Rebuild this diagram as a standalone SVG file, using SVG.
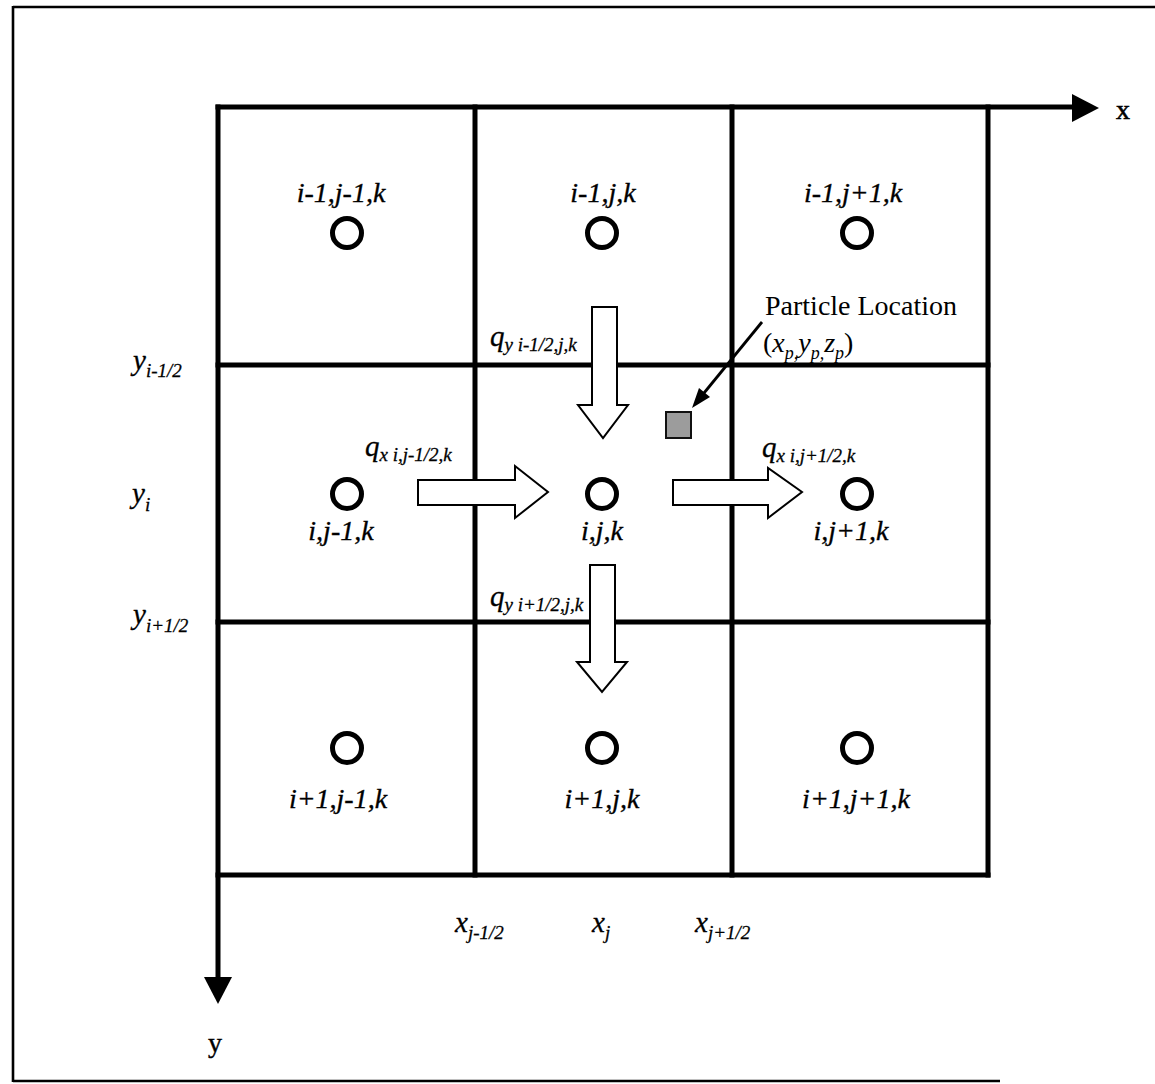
<svg xmlns="http://www.w3.org/2000/svg" width="1155" height="1084" viewBox="0 0 1155 1084">
<style>
.frame{stroke:#000;stroke-width:2.6;fill:none}
.grid{stroke:#000;stroke-width:5;fill:none;stroke-linecap:square}
.node{fill:none;stroke:#000;stroke-width:5}
.lbl{font-family:"Liberation Serif",serif;font-style:italic;font-size:28px;text-anchor:middle;fill:#000;stroke:#000;stroke-width:0.35}
.it{font-family:"Liberation Serif",serif;font-style:italic;font-size:29px;fill:#000;stroke:#000;stroke-width:0.3}
.sub{font-size:19px}
.rm{font-family:"Liberation Serif",serif;font-size:28px;fill:#000}
.flux{fill:#fff;stroke:#000;stroke-width:2}
</style>
<rect width="1155" height="1084" fill="#fff"/>
<g id="frame">
<line class="frame" x1="13" y1="7" x2="1155" y2="7"/>
<line class="frame" x1="13" y1="6" x2="13" y2="1082"/>
<line class="frame" x1="13" y1="1081" x2="1000" y2="1081"/>
</g>
<g id="grid">
<line class="grid" x1="218" y1="107" x2="1076" y2="107"/>
<line class="grid" x1="218" y1="365" x2="988" y2="365"/>
<line class="grid" x1="218" y1="622" x2="988" y2="622"/>
<line class="grid" x1="218" y1="875" x2="988" y2="875"/>
<line class="grid" x1="218" y1="107" x2="218" y2="980"/>
<line class="grid" x1="475" y1="107" x2="475" y2="875"/>
<line class="grid" x1="732" y1="107" x2="732" y2="875"/>
<line class="grid" x1="988" y1="107" x2="988" y2="875"/>
<polygon points="1072,94 1099,108 1072,122" fill="#000"/>
<polygon points="204,977 232,977 218,1004" fill="#000"/>
</g>
<g id="axis-labels">
<text class="rm" x="1116" y="119" font-size="31" stroke="#000" stroke-width="0.6">x</text>
<text class="rm" x="208" y="1052" font-size="31" stroke="#000" stroke-width="0.4">y</text>
<text class="it" x="133" y="370">y<tspan class="sub" dy="7">i-1/2</tspan></text>
<text class="it" x="132" y="503">y<tspan class="sub" dy="8">i</tspan></text>
<text class="it" x="133" y="624">y<tspan class="sub" dy="8">i+1/2</tspan></text>
<text class="it" x="455" y="932">x<tspan class="sub" dy="7">j-1/2</tspan></text>
<text class="it" x="592" y="932">x<tspan class="sub" dy="7">j</tspan></text>
<text class="it" x="695" y="932">x<tspan class="sub" dy="7">j+1/2</tspan></text>
</g>
<g id="cell-i-1-j-1"><circle class="node" cx="347" cy="233" r="14.5"/><text class="lbl" x="341" y="202">i-1,j-1,k</text></g>
<g id="cell-i-1-j"><circle class="node" cx="602" cy="233" r="14.5"/><text class="lbl" x="603" y="202">i-1,j,k</text></g>
<g id="cell-i-1-j+1"><circle class="node" cx="857" cy="233" r="14.5"/><text class="lbl" x="853" y="202">i-1,j+1,k</text></g>
<g id="cell-i-j-1"><circle class="node" cx="347" cy="494" r="14.5"/><text class="lbl" x="341" y="540">i,j-1,k</text></g>
<g id="cell-i-j"><circle class="node" cx="602" cy="494" r="14.5"/><text class="lbl" x="602" y="540">i,j,k</text></g>
<g id="cell-i-j+1"><circle class="node" cx="857" cy="494" r="14.5"/><text class="lbl" x="851" y="540">i,j+1,k</text></g>
<g id="cell-i+1-j-1"><circle class="node" cx="347" cy="748" r="14.5"/><text class="lbl" x="338" y="808">i+1,j-1,k</text></g>
<g id="cell-i+1-j"><circle class="node" cx="602" cy="748" r="14.5"/><text class="lbl" x="602" y="808">i+1,j,k</text></g>
<g id="cell-i+1-j+1"><circle class="node" cx="857" cy="748" r="14.5"/><text class="lbl" x="856" y="808">i+1,j+1,k</text></g>
<g id="connectors">
<polygon class="flux" points="592,307 617,307 617,405 628,405 603,438 578,405 592,405"/>
<polygon class="flux" points="590,565 615,565 615,662 627,662 602,692 577,662 590,662"/>
<polygon class="flux" points="418,480 515,480 515,466 548,492 515,518 515,505 418,505"/>
<polygon class="flux" points="673,480 768,480 768,468 802,492 768,518 768,505 673,505"/>
<line x1="762" y1="322" x2="704" y2="393" stroke="#000" stroke-width="2.8"/>
<polygon points="692,408 710,397 699,388" fill="#000"/>
</g>
<g id="flux-labels">
<text class="it" x="490" y="346">q<tspan class="sub" dy="5">y i-1/2,j,k</tspan></text>
<text class="it" x="365" y="456">q<tspan class="sub" dy="5">x i,j-1/2,k</tspan></text>
<text class="it" x="762" y="457">q<tspan class="sub" dy="5">x i,j+1/2,k</tspan></text>
<text class="it" x="490" y="606">q<tspan class="sub" dy="5">y i+1/2,j,k</tspan></text>
</g>
<g id="particle">
<rect x="666" y="412" width="25" height="26" fill="#9c9c9c" stroke="#111" stroke-width="2"/>
<text class="rm" x="765" y="315">Particle Location</text>
<text class="rm" x="763" y="352">(<tspan font-style="italic">x</tspan><tspan font-style="italic" font-size="18" dy="7">p,</tspan><tspan font-style="italic" dy="-7">y</tspan><tspan font-style="italic" font-size="18" dy="7">p,</tspan><tspan font-style="italic" dy="-7">z</tspan><tspan font-style="italic" font-size="18" dy="7">p</tspan><tspan dy="-7">)</tspan></text>
</g>
</svg>
